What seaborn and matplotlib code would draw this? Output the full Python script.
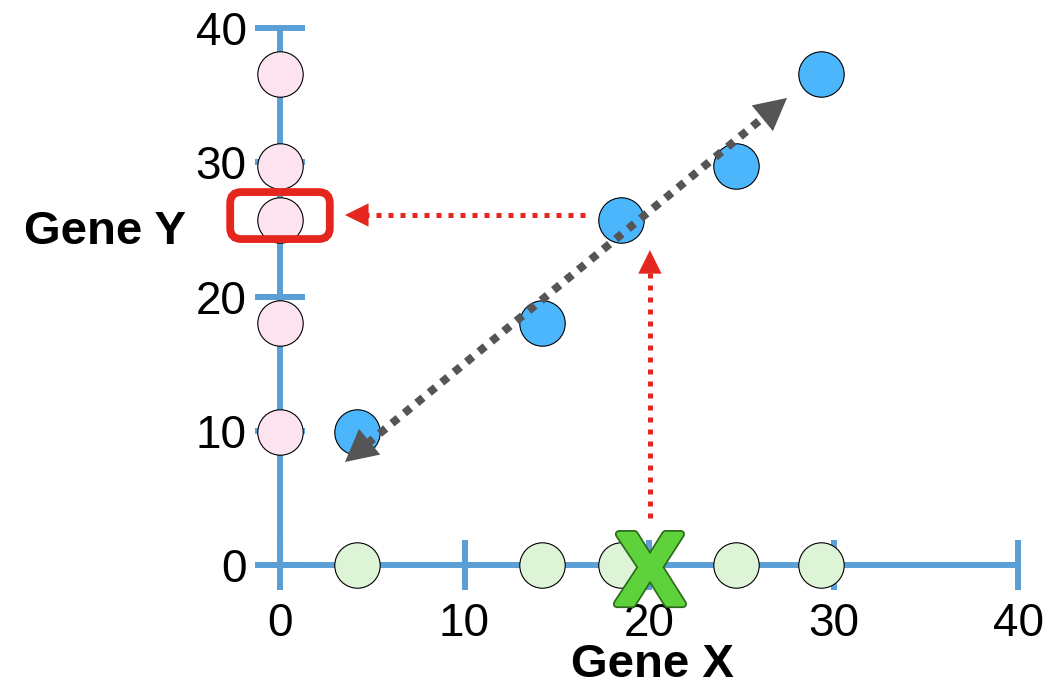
import numpy as np
import pandas as pd
import matplotlib
matplotlib.use("Agg")
import matplotlib.pyplot as plt
import seaborn as sns
from matplotlib.patches import FancyBboxPatch
import matplotlib.patheffects as pe

# Data
gene_x = [4.2, 14.2, 18.5, 24.7, 29.3]
gene_y = [9.9, 18.0, 25.7, 29.7, 36.6]
ticks = [0, 10, 20, 30, 40]
tick_labels = ["0", "10", "20", "30", "40"]

# Colours
axis_blue = "#5a9fd5"
point_blue = "#4cb6fc"
point_pink = "#fde3f0"
point_green = "#ddf4d6"
arrow_grey = "#555555"
arrow_red = "#e5261f"
x_green = "#5ed23a"
x_edge = "#2e6a1c"

sns.set_style("white")
plt.rcParams["font.family"] = ["Liberation Sans", "DejaVu Sans"]
plt.rcParams["text.color"] = "black"

fig = plt.figure(figsize=(10.59, 6.94), dpi=100)
ax = fig.add_axes([0, 0, 1, 1])

# x: 0 -> 280px, 40 -> 1018px ; y: 0 -> 565px, 40 -> 28px (from top)
ax.set_xlim(-280 / 18.45, (1059 - 280) / 18.45)
ax.set_ylim(-(694 - 565) / 13.425, 565 / 13.425)

# --- points ---
df = pd.DataFrame({"gene_x": gene_x, "gene_y": gene_y})
df_y_only = pd.DataFrame({"gene_x": np.zeros(len(gene_y)), "gene_y": gene_y})
df_x_only = pd.DataFrame({"gene_x": gene_x, "gene_y": np.zeros(len(gene_x))})

common = dict(x="gene_x", y="gene_y", s=1070, edgecolor="black",
              linewidth=0.8, zorder=4, legend=False, ax=ax)
sns.scatterplot(data=df_y_only, color=point_pink, **common)
sns.scatterplot(data=df_x_only, color=point_green, **common)
sns.scatterplot(data=df, color=point_blue, **common)
ax.set_xlabel("")
ax.set_ylabel("")

# --- axes drawn as spines through the origin ---
for side in ["top", "right"]:
    ax.spines[side].set_visible(False)
for side in ["left", "bottom"]:
    ax.spines[side].set_position(("data", 0))
    ax.spines[side].set_bounds(0, 40)
    ax.spines[side].set_color(axis_blue)
    ax.spines[side].set_linewidth(4.3)
    ax.spines[side].set_capstyle("butt")

ax.set_xticks(ticks)
ax.set_xticklabels(tick_labels)
ax.set_yticks(ticks)
ax.set_yticklabels(tick_labels)
ax.tick_params(axis="both", bottom=True, left=True, direction="inout",
               length=36, width=4.3, color=axis_blue, labelsize=33,
               labelcolor="black")
ax.tick_params(axis="x", pad=9)
ax.tick_params(axis="y", pad=6)
ax.grid(False)


def dotted_arrow(start, tip, base, color, lw, dashes, head, zorder=5):
    # dotted shaft from start to the head base, solid head at the tip
    ax.plot([start[0], base[0]], [start[1], base[1]], color=color, lw=lw,
            linestyle=(0, dashes), dash_capstyle="butt", zorder=zorder)
    ax.annotate("", xy=tip, xytext=base,
                arrowprops=dict(arrowstyle=head, color=color, lw=0,
                                shrinkA=0, shrinkB=0, mutation_scale=20),
                zorder=zorder)


# grey double headed trend arrow
g_tip1 = np.array([3.52, 7.67])
g_tip2 = np.array([27.48, 34.79])
d = g_tip2 - g_tip1
g_base1 = g_tip1 + 0.05 * d
g_base2 = g_tip2 - 0.05 * d
ax.plot([g_base1[0], g_base2[0]], [g_base1[1], g_base2[1]], color=arrow_grey,
        lw=5.8, linestyle=(0, (1.0, 1.0)), dash_capstyle="butt", zorder=5)
for tip, base in [(g_tip1, g_base1), (g_tip2, g_base2)]:
    ax.annotate("", xy=tip, xytext=base,
                arrowprops=dict(arrowstyle="-|>,head_length=1.15,head_width=0.6",
                                color=arrow_grey, lw=0, shrinkA=0, shrinkB=0,
                                mutation_scale=20), zorder=5)

# red projection arrows
dotted_arrow((16.53, 26.07), (3.52, 26.07), (4.5, 26.07), arrow_red, 3.6,
             (1.0, 1.4), "-|>,head_length=0.85,head_width=0.42")
dotted_arrow((20.05, 3.5), (20.05, 23.46), (20.05, 21.75), arrow_red, 3.6,
             (1.0, 1.4), "-|>,head_length=0.85,head_width=0.42")

# red rounded box around the projected value
box = FancyBboxPatch((-2.7, 24.28), 5.4, 3.5,
                     boxstyle="round,pad=0,rounding_size=0.6",
                     mutation_aspect=18.45 / 13.425,
                     fill=False, edgecolor=arrow_red, linewidth=5.6, zorder=6)
ax.add_patch(box)

# big green X marker on the x axis
ax.text(20.05, -2.9, "X", fontsize=73, fontweight="bold", color=x_green,
        ha="center", va="baseline", zorder=7,
        path_effects=[pe.Stroke(linewidth=6, foreground=x_edge),
                      pe.Stroke(linewidth=3.5, foreground=x_green),
                      pe.Normal()])

# axis titles
ax.text(-9.49, 24.8, "Gene Y", fontsize=34, fontweight="bold",
        color="black", ha="center", va="center")
ax.text(20.2, -7.45, "Gene X", fontsize=34, fontweight="bold",
        color="black", ha="center", va="center")

fig.savefig("out.png", dpi=100)
